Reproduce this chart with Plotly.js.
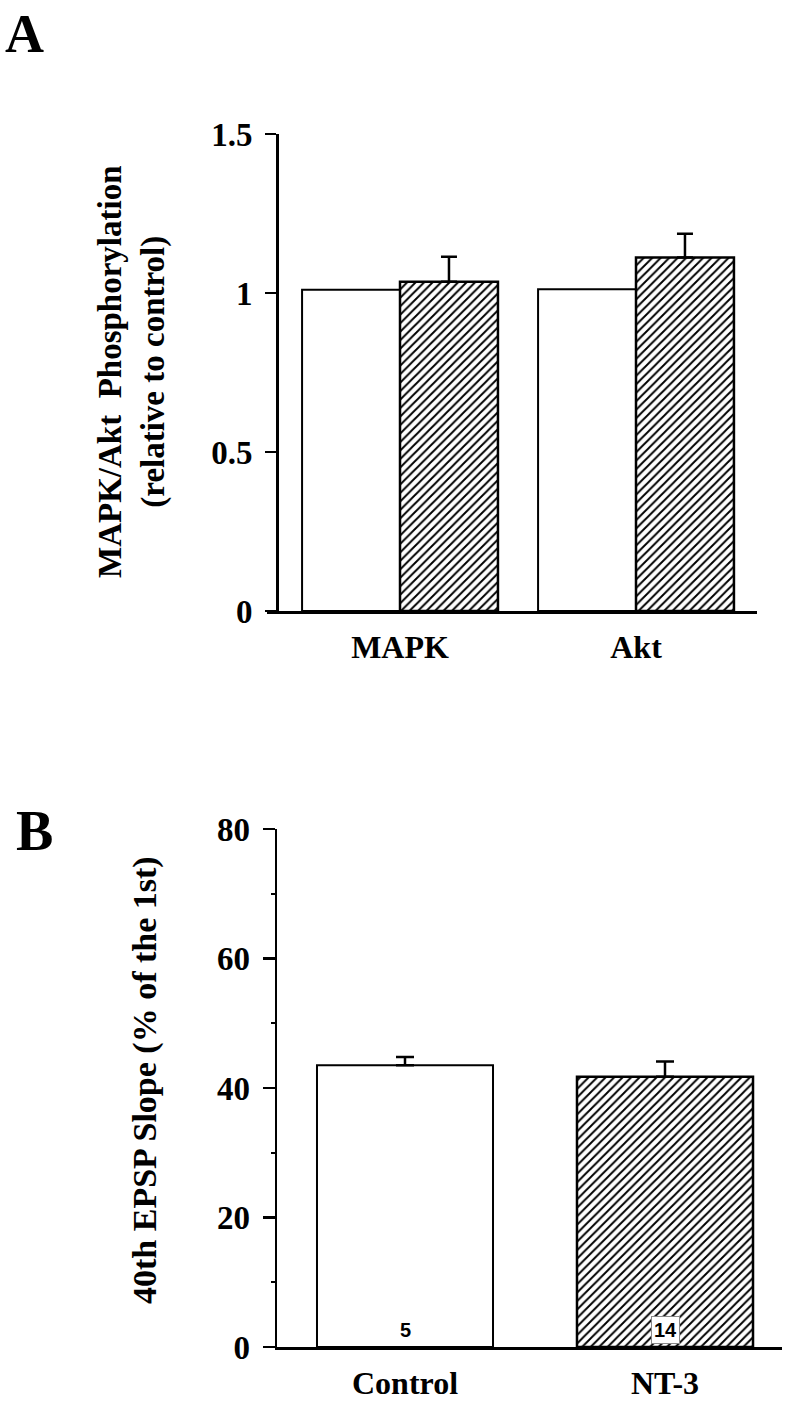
<!DOCTYPE html>
<html>
<head>
<meta charset="utf-8">
<script src="https://cdn.plot.ly/plotly-3.0.1.min.js"></script>
<style>
  html, body { margin: 0; padding: 0; background: #fff; }
  #fig { width: 800px; height: 1406px; }
</style>
</head>
<body>
<div id="fig"></div>
<script>
/* Panel A: MAPK / Akt phosphorylation relative to control
   Panel B: 40th EPSP slope, control vs NT-3 */

var categoriesA = ['MAPK', 'Akt'];
var controlA = [1.01, 1.012];
var treatedA = [1.035, 1.112];
var treatedErrA = [0.079, 0.074];

var categoriesB = ['Control', 'NT-3'];
var valuesB = [43.5, 41.75];
var errB = [1.3, 2.35];
var nB = [5, 14];

var ticksA = [0, 0.5, 1, 1.5];
var tickTextA = ['0', '0.5', '1', '1.5'];
var ticksB = [0, 20, 40, 60, 80];

(function () {
  'use strict';

  var W = 800, H = 1406;
  function px(x) { return x / W; }          // pixel x -> paper
  function py(y) { return (H - y) / H; }    // pixel y (from top) -> paper

  var serif = 'Liberation Serif, Times New Roman, serif';
  var hatch = { shape: '/', size: 6, solidity: 0.32, fgcolor: '#000', bgcolor: '#fff' };
  var idxA = categoriesA.map(function (_, i) { return i; });
  var idxB = categoriesB.map(function (_, i) { return i; });

  var traces = [
    { type: 'bar', x: idxA, y: controlA, xaxis: 'x', yaxis: 'y',
      width: 0.415, offset: -0.415,
      marker: { color: '#fff', line: { color: '#000', width: 2 } },
      hoverinfo: 'skip', showlegend: false },
    { type: 'bar', x: idxA, y: treatedA, xaxis: 'x', yaxis: 'y',
      width: 0.415, offset: 0,
      marker: { color: '#fff', pattern: hatch, line: { color: '#000', width: 2.5 } },
      error_y: { type: 'data', symmetric: false, array: treatedErrA, arrayminus: [0, 0],
                 color: '#000', thickness: 2.5, width: 8 },
      hoverinfo: 'skip', showlegend: false },
    { type: 'bar', x: idxB, y: valuesB, xaxis: 'x2', yaxis: 'y2',
      width: 0.677,
      marker: { color: '#fff',
                pattern: { shape: ['', '/'], size: 6, solidity: 0.32, fgcolor: '#000', bgcolor: '#fff' },
                line: { color: '#000', width: [2, 2.5] } },
      error_y: { type: 'data', symmetric: false, array: errB, arrayminus: [0, 0],
                 color: '#000', thickness: 2.5, width: 9 },
      hoverinfo: 'skip', showlegend: false }
  ];

  var annotations = [
    { xref: 'paper', yref: 'paper', x: px(3), y: py(2), xanchor: 'left', yanchor: 'top',
      text: 'A', showarrow: false, font: { family: serif, size: 54, color: '#000', weight: 'bold' } },
    { xref: 'paper', yref: 'paper', x: px(14), y: py(831), xanchor: 'left', yanchor: 'middle',
      text: 'B', showarrow: false, font: { family: serif, size: 56, color: '#000', weight: 'bold' } },
    { xref: 'paper', yref: 'paper', x: px(132), y: py(372), xanchor: 'center', yanchor: 'middle',
      textangle: -90, showarrow: false,
      text: 'MAPK/Akt  Phosphorylation<br>(relative to control)',
      font: { family: serif, size: 33, color: '#000', weight: 'bold' } },
    { xref: 'paper', yref: 'paper', x: px(145), y: py(1080), xanchor: 'center', yanchor: 'middle',
      textangle: -90, showarrow: false,
      text: '40th EPSP Slope (% of the 1st)',
      font: { family: serif, size: 34, color: '#000', weight: 'bold' } }
  ];

  nB.forEach(function (n, i) {
    annotations.push({
      xref: 'x2', yref: 'y2', x: i, y: 2.6, xanchor: 'center', yanchor: 'middle',
      text: String(n), showarrow: false,
      font: { family: 'Liberation Sans, Arial, sans-serif', size: 20, color: '#000', weight: 'bold' },
      bgcolor: i === 1 ? '#fff' : 'rgba(0,0,0,0)',
      bordercolor: i === 1 ? '#888' : 'rgba(0,0,0,0)',
      borderwidth: 1, borderpad: 2
    });
  });

  var layout = {
    width: W, height: H,
    margin: { l: 0, r: 0, t: 0, b: 0 },
    paper_bgcolor: '#fff', plot_bgcolor: 'rgba(0,0,0,0)',
    barmode: 'overlay',
    font: { family: serif, color: '#000' },
    xaxis: {
      domain: [px(267), px(757)], anchor: 'y',
      range: [-0.5636, 1.5127],
      tickvals: idxA, ticktext: categoriesA, ticks: '',
      tickfont: { family: serif, size: 32, color: '#000', weight: 'bold' },
      ticklabelstandoff: 6,
      showline: true, linecolor: '#000', linewidth: 2.5,
      showgrid: false, zeroline: false, fixedrange: true
    },
    yaxis: {
      domain: [py(611), py(134)], anchor: 'free', position: px(277),
      range: [0, 1.5],
      tickvals: ticksA, ticktext: tickTextA,
      ticks: 'outside', ticklen: 11, tickwidth: 2.5, tickcolor: '#000',
      tickfont: { family: serif, size: 33, color: '#000', weight: 'bold' },
      ticklabelstandoff: 6,
      showline: true, linecolor: '#000', linewidth: 2.5,
      showgrid: false, zeroline: false, fixedrange: true
    },
    xaxis2: {
      domain: [px(277), px(782)], anchor: 'y2',
      range: [-0.4923, 1.45],
      tickvals: idxB, ticktext: categoriesB, ticks: '',
      tickfont: { family: serif, size: 32, color: '#000', weight: 'bold' },
      ticklabelstandoff: 6,
      showline: true, linecolor: '#000', linewidth: 2.5,
      showgrid: false, zeroline: false, fixedrange: true
    },
    yaxis2: {
      domain: [py(1347), py(829)], anchor: 'x2',
      range: [0, 80],
      tickvals: ticksB,
      ticks: 'outside', ticklen: 12, tickwidth: 2.5, tickcolor: '#000',
      minor: { tickvals: [10, 30, 50, 70], ticks: 'outside', ticklen: 4, tickwidth: 2, tickcolor: '#000', showgrid: false },
      tickfont: { family: serif, size: 33, color: '#000', weight: 'bold' },
      ticklabelstandoff: 6,
      showline: true, linecolor: '#000', linewidth: 2.5,
      showgrid: false, zeroline: false, fixedrange: true
    },
    annotations: annotations
  };

  Plotly.newPlot('fig', traces, layout, { displayModeBar: false, staticPlot: true });
})();
</script>
</body>
</html>
